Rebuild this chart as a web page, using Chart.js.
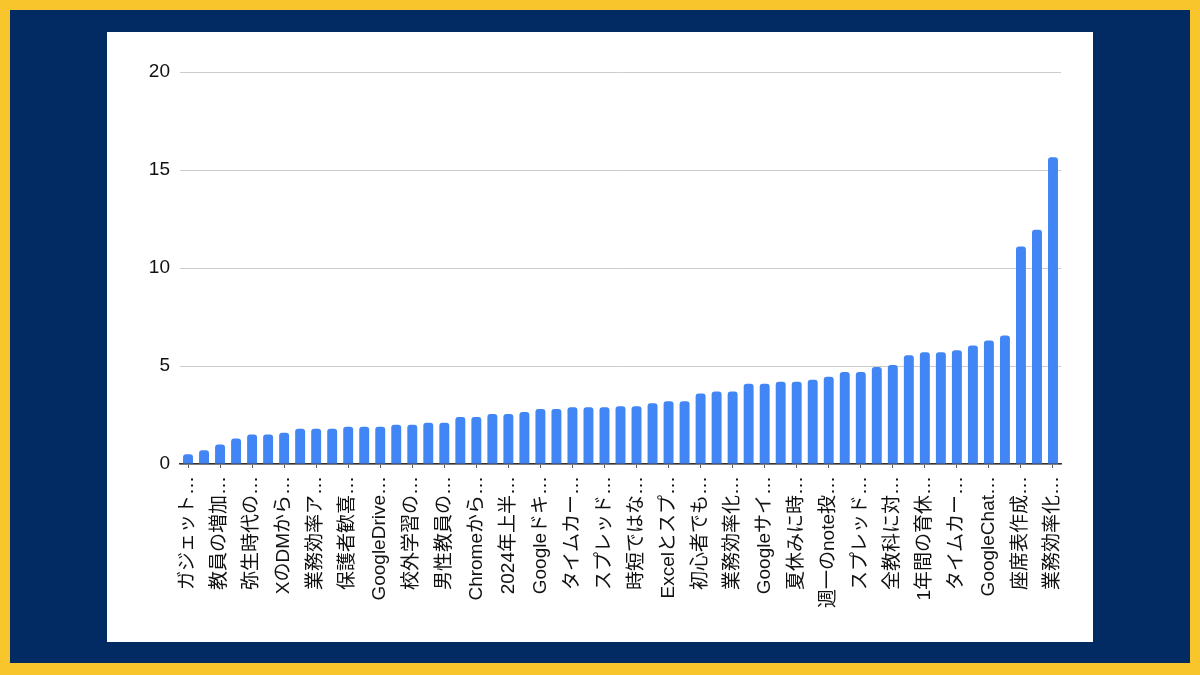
<!DOCTYPE html>
<html lang="ja">
<head>
<meta charset="utf-8">
<title>bar chart</title>
<script src="https://cdn.jsdelivr.net/npm/chart.js@4"></script>
<style>
  html, body { margin: 0; padding: 0; }
  body {
    width: 1200px;
    height: 675px;
    box-sizing: border-box;
    background: #032b63;
    border: 10px solid #f8c52c;
    border-bottom-width: 12px;
    position: relative;
    overflow: hidden;
  }
  #panel {
    position: absolute;
    left: 97px;
    top: 22px;
    width: 986px;
    height: 610px;
    background: #ffffff;
  }
</style>
</head>
<body>
<div id="panel"><canvas id="bar" width="986" height="610"></canvas></div>
<script>
// labels only every other bar are readable in the picture; the rest are left blank
const categories = [
  "ガジェット…", "", "教員の増加…", "", "弥生時代の…", "", "XのDMから…", "",
  "業務効率ア…", "", "保護者歓喜…", "", "GoogleDrive…", "", "校外学習の…", "",
  "男性教員の…", "", "Chromeから…", "", "2024年上半…", "", "Googleドキ…", "",
  "タイムカー…", "", "スプレッド…", "", "時短ではな…", "", "Excelとスプ…", "",
  "初心者でも…", "", "業務効率化…", "", "Googleサイ…", "", "夏休みに時…", "",
  "週一のnote投…", "", "スプレッド…", "", "全教科に対…", "", "1年間の育休…", "",
  "タイムカー…", "", "GoogleChat…", "", "座席表作成…", "", "業務効率化…"
];

const values = [
  0.5, 0.7, 1.0, 1.3, 1.5, 1.5, 1.6, 1.8, 1.8, 1.8,
  1.9, 1.9, 1.9, 2.0, 2.0, 2.1, 2.1, 2.4, 2.4, 2.55,
  2.55, 2.65, 2.8, 2.8, 2.9, 2.9, 2.9, 2.95, 2.95, 3.1,
  3.2, 3.2, 3.6, 3.7, 3.7, 4.1, 4.1, 4.2, 4.2, 4.3,
  4.45, 4.7, 4.7, 4.95, 5.05, 5.55, 5.7, 5.7, 5.8, 6.05,
  6.3, 6.55, 11.1, 11.95, 15.65
];

const yTicks = [0, 5, 10, 15, 20];

const FONT = "'Liberation Sans', Arial, 'Noto Sans CJK JP', sans-serif";

new Chart(document.getElementById("bar"), {
  type: "bar",
  data: {
    labels: categories,
    datasets: [
      {
        data: values,
        backgroundColor: "#4285f4",
        borderRadius: 3,
        borderSkipped: "start",
        barPercentage: 0.62,
        categoryPercentage: 1.0,
      },
    ],
  },
  options: {
    responsive: false,
    animation: false,
    layout: {
      padding: { left: 2, right: 32, top: 40, bottom: 0 },
    },
    plugins: {
      legend: { display: false },
      tooltip: { enabled: false },
    },
    scales: {
      x: {
        offset: true,
        grid: {
          offset: false,
          drawOnChartArea: false,
          drawTicks: true,
          tickLength: 4,
          color: (ctx) => (ctx.index % 2 === 0 ? "#555555" : "rgba(0,0,0,0)"),
        },
        border: { display: true, color: "#333333", width: 1.5 },
        ticks: {
          autoSkip: false,
          maxRotation: 90,
          minRotation: 90,
          padding: 8,
          color: "#111111",
          font: { family: FONT, size: 19 },
        },
        afterFit: (scale) => {
          scale.height = 178;
        },
      },
      y: {
        min: 0,
        max: 20,
        afterBuildTicks: (scale) => {
          scale.ticks = yTicks.map((v) => ({ value: v }));
        },
        grid: {
          drawTicks: false,
          color: "#cccccc",
          lineWidth: 1,
        },
        border: { display: false },
        ticks: {
          padding: 10,
          color: "#111111",
          font: { family: FONT, size: 19 },
        },
        afterFit: (scale) => {
          scale.width = 71;
        },
      },
    },
  },
});
</script>
</body>
</html>
